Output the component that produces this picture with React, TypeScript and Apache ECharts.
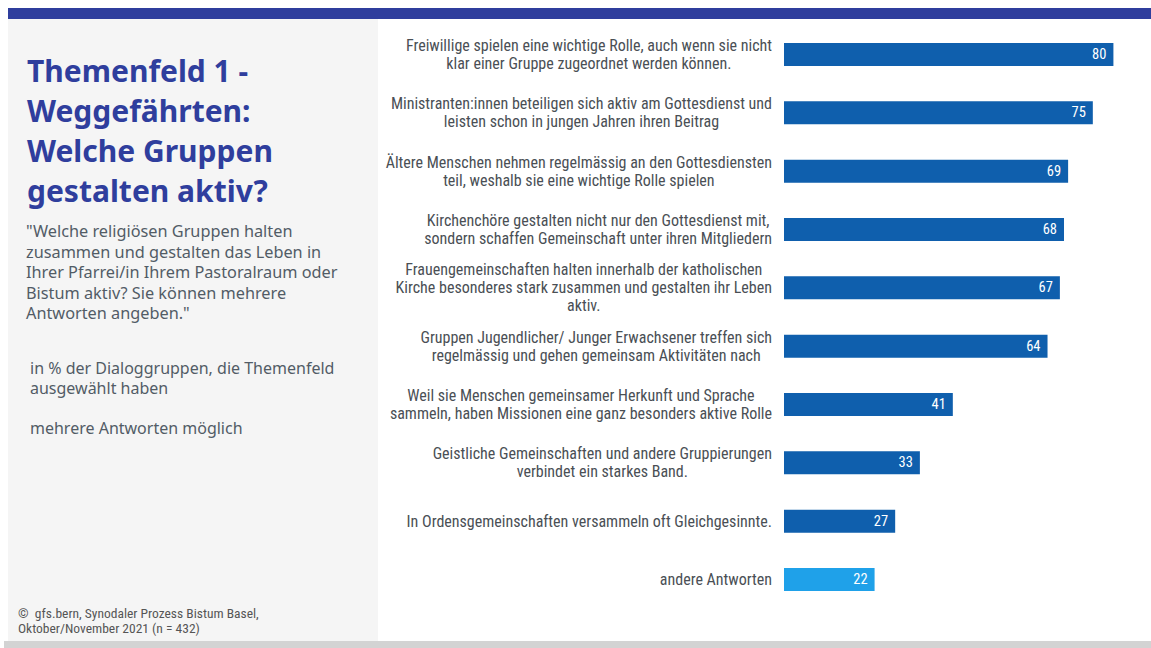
import React, { useEffect, useRef } from "react";
import * as echarts from "echarts";

const categories: string[] = [
  "Freiwillige spielen eine wichtige Rolle, auch wenn sie nicht\nklar einer Gruppe zugeordnet werden können.",
  "Ministranten:innen beteiligen sich aktiv am Gottesdienst und\nleisten schon in jungen Jahren ihren Beitrag",
  "Ältere Menschen nehmen regelmässig an den Gottesdiensten\nteil, weshalb sie eine wichtige Rolle spielen",
  "Kirchenchöre gestalten nicht nur den Gottesdienst mit,\nsondern schaffen Gemeinschaft unter ihren Mitgliedern",
  "Frauengemeinschaften halten innerhalb der katholischen\nKirche besonderes stark zusammen und gestalten ihr Leben\naktiv.",
  "Gruppen Jugendlicher/ Junger Erwachsener treffen sich\nregelmässig und gehen gemeinsam Aktivitäten nach",
  "Weil sie Menschen gemeinsamer Herkunft und Sprache\nsammeln, haben Missionen eine ganz besonders aktive Rolle",
  "Geistliche Gemeinschaften und andere Gruppierungen\nverbindet ein starkes Band.",
  "In Ordensgemeinschaften versammeln oft Gleichgesinnte.",
  "andere Antworten",
];
const values: number[] = [80, 75, 69, 68, 67, 64, 41, 33, 27, 22];
const highlightIndex = 9;

const titleLines: string[] = ["Themenfeld 1 -", "Weggefährten:", "Welche Gruppen", "gestalten aktiv?"];
const questionLines: string[] = [
  "\"Welche religiösen Gruppen halten",
  "zusammen und gestalten das Leben in",
  "Ihrer Pfarrei/in Ihrem Pastoralraum oder",
  "Bistum aktiv? Sie können mehrere",
  "Antworten angeben.\"",
];
const noteLines: string[] = ["in % der Dialoggruppen, die Themenfeld", "ausgewählt haben", "", "mehrere Antworten möglich"];
const footerLines: string[] = ["©  gfs.bern, Synodaler Prozess Bistum Basel,", "Oktober/November 2021 (n = 432)"];

const NARROW = "'Liberation Sans Narrow', 'Roboto Condensed', 'Noto Sans', sans-serif";
const SANS = "'Noto Sans', 'Open Sans', sans-serif";
const BAR = "#0f5fad";
const BAR_HL = "#1fa1e9";
const NAVY = "#2f3e9d";

export default function App() {
  const ref = useRef<HTMLDivElement>(null);
  useEffect(() => {
    if (!ref.current) return;
    const chart = echarts.init(ref.current, undefined, { renderer: "svg" });
    chart.setOption({
      animation: false,
      backgroundColor: "#ffffff",
      graphic: [
        { type: "rect", shape: { x: 8, y: 8, width: 1143, height: 11 }, style: { fill: NAVY }, z: -10 },
        { type: "rect", shape: { x: 8, y: 19, width: 370, height: 622 }, style: { fill: "#f5f5f5" }, z: -10 },
        { type: "rect", shape: { x: 4, y: 641, width: 1147, height: 7 }, style: { fill: "#d3d3d3" }, z: -10 },
        {
          type: "text",
          x: 27,
          y: 50,
          style: {
            text: titleLines.join("\n"),
            font: `bold 30px ${SANS}`,
            fill: NAVY,
            lineHeight: 40,
          },
        },
        {
          type: "text",
          x: 26,
          y: 221,
          style: {
            text: questionLines.join("\n"),
            font: `16.3px ${SANS}`,
            fill: "#525c66",
            lineHeight: 20.5,
          },
        },
        {
          type: "text",
          x: 30,
          y: 358,
          style: {
            text: noteLines.join("\n"),
            font: `16px ${SANS}`,
            fill: "#525c66",
            lineHeight: 20,
          },
        },
        {
          type: "text",
          x: 18,
          y: 605,
          style: {
            text: footerLines.join("\n"),
            font: `13.5px ${NARROW}`,
            fill: "#555555",
            lineHeight: 15.5,
          },
        },
      ],
      grid: { left: 784, top: 25.3, width: 350, height: 583.4 },
      xAxis: {
        type: "value",
        min: 0,
        max: 85,
        show: false,
      },
      yAxis: {
        type: "category",
        inverse: true,
        data: categories,
        axisLine: { show: false },
        axisTick: { show: false },
        splitLine: { show: false },
        axisLabel: {
          margin: 12,
          align: "right",
          formatter: (v: string) =>
            v
              .split("\n")
              .map((l) => `{c|${l}}`)
              .join("\n"),
          rich: {
            c: {
              align: "center",
              fontFamily: NARROW,
              fontSize: 16,
              color: "#4a4f55",
              lineHeight: 18,
            },
          },
        },
      },
      series: [
        {
          type: "bar",
          data: values.map((v, i) => ({
            value: v,
            itemStyle: { color: i === highlightIndex ? BAR_HL : BAR },
          })),
          barWidth: 23,
          label: {
            show: true,
            position: "insideRight",
            distance: 7,
            color: "#ffffff",
            fontFamily: NARROW,
            fontSize: 14.5,
          },
        },
      ],
    });
    return () => chart.dispose();
  }, []);
  return <div ref={ref} style={{ position: "absolute", left: 0, top: 0, width: 1151, height: 648 }} />;
}
